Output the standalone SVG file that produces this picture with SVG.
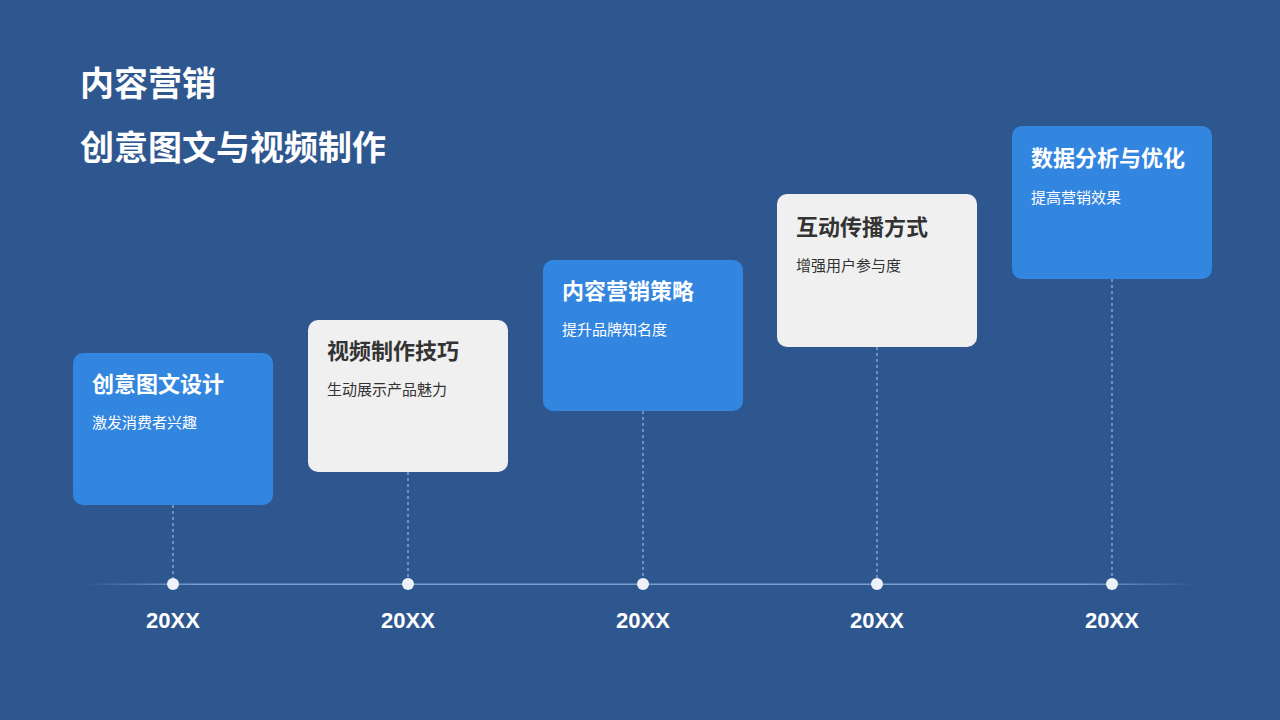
<svg xmlns="http://www.w3.org/2000/svg" width="1280" height="720" viewBox="0 0 1280 720">
<defs>
<linearGradient id="lg" x1="0" x2="1" y1="0" y2="0">
<stop offset="0" stop-color="#8fb0e0" stop-opacity="0"/>
<stop offset="0.1" stop-color="#8fb0e0" stop-opacity="0.8"/>
<stop offset="0.9" stop-color="#8fb0e0" stop-opacity="0.8"/>
<stop offset="1" stop-color="#8fb0e0" stop-opacity="0"/>
</linearGradient>
<style>
text{font-family:"Noto Sans CJK SC","Liberation Sans",sans-serif}
.h{font-size:34px;font-weight:bold;fill:#fff}
.t{font-size:22px;font-weight:bold}
.s{font-size:15px}
.b{fill:#3386e0}
.g{fill:#f0f0f0}
.w{fill:#fff}
.d{fill:#333}
.v{stroke:#b8c8e0;stroke-width:1;stroke-dasharray:3 3}
.y{font-family:"Liberation Sans",sans-serif;font-size:22px;font-weight:bold;fill:#fff;text-anchor:middle}
</style>
</defs>
<rect width="1280" height="720" fill="#2f578f"/>
<text class="h" x="80" y="96">内容营销</text>
<text class="h" x="80" y="160">创意图文与视频制作</text>
<g id="connectors">
<rect x="85" y="583.5" width="1110" height="1.5" fill="url(#lg)"/>
<line class="v" x1="173" y1="505" x2="173" y2="584"/>
<line class="v" x1="408" y1="472" x2="408" y2="584"/>
<line class="v" x1="643" y1="411" x2="643" y2="584"/>
<line class="v" x1="877" y1="347" x2="877" y2="584"/>
<line class="v" x1="1112" y1="279" x2="1112" y2="584"/>
</g>
<g id="n1"><rect class="b" x="73" y="353" width="200" height="152" rx="10"/><text class="t w" x="92" y="392">创意图文设计</text><text class="s w" x="92" y="428">激发消费者兴趣</text></g>
<g id="n2"><rect class="g" x="308" y="320" width="200" height="152" rx="10"/><text class="t d" x="327" y="359">视频制作技巧</text><text class="s d" x="327" y="395">生动展示产品魅力</text></g>
<g id="n3"><rect class="b" x="543" y="260" width="200" height="151" rx="10"/><text class="t w" x="562" y="299">内容营销策略</text><text class="s w" x="562" y="335">提升品牌知名度</text></g>
<g id="n4"><rect class="g" x="777" y="194" width="200" height="153" rx="10"/><text class="t d" x="796" y="235">互动传播方式</text><text class="s d" x="796" y="271">增强用户参与度</text></g>
<g id="n5"><rect class="b" x="1012" y="126" width="200" height="153" rx="10"/><text class="t w" x="1031" y="166">数据分析与优化</text><text class="s w" x="1031" y="203">提高营销效果</text></g>
<g id="dots" fill="#eef2f8">
<circle cx="173" cy="584" r="6"/><circle cx="408" cy="584" r="6"/><circle cx="643" cy="584" r="6"/><circle cx="877" cy="584" r="6"/><circle cx="1112" cy="584" r="6"/>
</g>
<text class="y" x="173" y="628">20XX</text>
<text class="y" x="408" y="628">20XX</text>
<text class="y" x="643" y="628">20XX</text>
<text class="y" x="877" y="628">20XX</text>
<text class="y" x="1112" y="628">20XX</text>
</svg>
